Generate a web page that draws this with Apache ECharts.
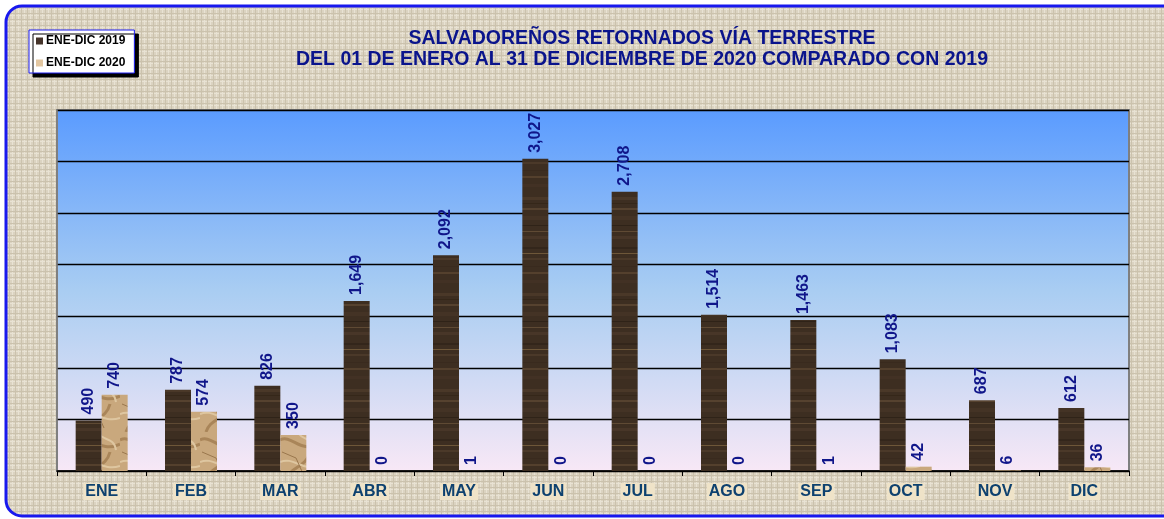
<!DOCTYPE html>
<html>
<head>
<meta charset="utf-8">
<script src="https://cdn.jsdelivr.net/npm/echarts@6/dist/echarts.min.js"></script>
<style>
html,body{margin:0;padding:0;background:#fff;}
#chart{width:1164px;height:519px;}
</style>
</head>
<body>
<div id="chart"></div>
<script>
// datos
const meses = ['ENE','FEB','MAR','ABR','MAY','JUN','JUL','AGO','SEP','OCT','NOV','DIC'];
const retornados2019 = [490,787,826,1649,2092,3027,2708,1514,1463,1083,687,612];
const retornados2020 = [740,574,350,0,1,0,0,0,1,42,6,36];
const nombresSeries = ['ENE-DIC 2019','ENE-DIC 2020'];
const titulo = ['SALVADOREÑOS RETORNADOS VÍA TERRESTRE','DEL 01 DE ENERO AL 31 DE DICIEMBRE DE 2020 COMPARADO CON 2019'];

const fuente = 'Arial, "Liberation Sans", sans-serif';

function lienzo(w, h, dibujar){
  const c = document.createElement('canvas');
  c.width = w; c.height = h;
  dibujar(c.getContext('2d'), w, h);
  return c;
}

/* textura madera (barras 2019) */
const madera = lienzo(4, 96, (ctx, w, h) => {
  ctx.fillStyle = '#3d2e21';
  ctx.fillRect(0, 0, w, h);
  const vetas = [[5,'#4a3828',3],[11,'#352719',1],[16,'#56422f',2],[24,'#443325',4],
                 [33,'#2f2318',1],[39,'#5f4a34',1],[44,'#483628',3],[55,'#33261b',2],[61,'#6e5739',1],
                 [66,'#4b3929',2],[74,'#392a1e',1],[80,'#54402d',2],[88,'#423124',3]];
  vetas.forEach(v => { ctx.fillStyle = v[1]; ctx.fillRect(0, v[0], w, v[2]); });
});

/* textura papel arrugado (barras 2020) */
const papel = lienzo(40, 48, (ctx, w, h) => {
  ctx.fillStyle = '#c9a87d';
  ctx.fillRect(0, 0, w, h);
  ctx.lineWidth = 3;
  ctx.strokeStyle = '#a98559';
  ctx.beginPath(); ctx.moveTo(0, 8); ctx.bezierCurveTo(12, 2, 20, 22, 40, 12); ctx.stroke();
  ctx.beginPath(); ctx.moveTo(6, 48); ctx.bezierCurveTo(10, 34, 26, 36, 30, 20); ctx.stroke();
  ctx.strokeStyle = '#dec6a0';
  ctx.lineWidth = 2;
  ctx.beginPath(); ctx.moveTo(0, 30); ctx.bezierCurveTo(14, 24, 22, 40, 40, 34); ctx.stroke();
  ctx.beginPath(); ctx.moveTo(18, 0); ctx.bezierCurveTo(22, 10, 34, 4, 36, 18); ctx.stroke();
  ctx.strokeStyle = '#9a774d';
  ctx.lineWidth = 1;
  ctx.beginPath(); ctx.moveTo(2, 20); ctx.lineTo(16, 26); ctx.lineTo(24, 44); ctx.stroke();
});

/* textura lino (fondo) */
const lino = lienzo(6, 6, (ctx, w, h) => {
  ctx.fillStyle = '#dbd3c1';
  ctx.fillRect(0, 0, w, h);
  ctx.fillStyle = '#e8e2d3';
  ctx.fillRect(0, 0, 1, h);
  ctx.fillRect(0, 3, w, 1);
  ctx.fillStyle = '#cbc2ad';
  ctx.fillRect(3, 0, 1, h);
  ctx.fillRect(0, 1, w, 1);
});

const etiquetaValor = {
  show: true, position: 'top', rotate: 90, align: 'left', verticalAlign: 'middle', distance: 6,
  fontFamily: fuente, fontWeight: 'bold', fontSize: 16, color: '#10168a',
  formatter: p => p.value.toLocaleString('en-US')
};

const chart = echarts.init(document.getElementById('chart'));

chart.setOption({
  backgroundColor: '#ffffff',
  animation: false,
  graphic: [
    {
      type: 'rect', z: -10, silent: true,
      shape: { x: 6, y: 6, width: 1200, height: 510, r: 16 },
      style: { fill: { image: lino, repeat: 'repeat' }, stroke: '#1818ee', lineWidth: 3 }
    },
    {
      type: 'text', z: 10, silent: true,
      style: { text: titulo[0], x: 642, y: 39, align: 'center', verticalAlign: 'middle',
               font: 'bold 19.5px ' + fuente, fill: '#0a148c' }
    },
    {
      type: 'text', z: 10, silent: true,
      style: { text: titulo[1], x: 642, y: 60, align: 'center', verticalAlign: 'middle',
               font: 'bold 19.5px ' + fuente, fill: '#0a148c' }
    }
  ],
  legend: {
    orient: 'vertical',
    left: 29,
    top: 30,
    padding: [5, 9, 4, 7],
    itemWidth: 7,
    itemHeight: 7,
    itemGap: 10,
    icon: 'rect',
    backgroundColor: '#ffffff',
    borderColor: '#1c1cf0',
    borderWidth: 1,
    shadowColor: '#000000',
    shadowBlur: 0,
    shadowOffsetX: 4,
    shadowOffsetY: 4,
    textStyle: { fontFamily: fuente, fontWeight: 'bold', fontSize: 12, color: '#000', padding: [0, 0, 0, -2] },
    data: [
      { name: nombresSeries[0], itemStyle: { color: '#45342a' } },
      { name: nombresSeries[1], itemStyle: { color: '#e2c6a0' } }
    ]
  },
  grid: {
    left: 57,
    right: 35,
    top: 110,
    bottom: 48,
    show: true,
    borderColor: '#7f7f7f',
    borderWidth: 2,
    backgroundColor: new echarts.graphic.LinearGradient(0, 0, 0, 1, [
      { offset: 0, color: '#5a9bff' },
      { offset: 0.5, color: '#a9cdf2' },
      { offset: 1, color: '#f8e8f6' }
    ])
  },
  xAxis: {
    type: 'category',
    data: meses,
    axisLine: { lineStyle: { color: '#000', width: 1.5 } },
    axisTick: { show: true, length: 5, lineStyle: { color: '#000' } },
    axisLabel: {
      margin: 12,
      fontFamily: fuente,
      fontWeight: 'bold',
      fontSize: 16,
      color: '#0e416f',
      backgroundColor: '#efe3c8',
      padding: [1, 2, 0, 2]
    }
  },
  yAxis: {
    type: 'value',
    min: 0,
    max: 3500,
    interval: 500,
    axisLine: { show: true, lineStyle: { color: '#7f7f7f', width: 1.5 } },
    axisTick: { show: false },
    axisLabel: { show: false },
    splitLine: { lineStyle: { color: '#000', width: 1.3 } }
  },
  series: [
    {
      name: nombresSeries[0],
      type: 'bar',
      data: retornados2019,
      barWidth: 26,
      barGap: '0%',
      itemStyle: { color: { image: madera, repeat: 'repeat' } },
      label: etiquetaValor
    },
    {
      name: nombresSeries[1],
      type: 'bar',
      data: retornados2020,
      barWidth: 26,
      itemStyle: { color: { image: papel, repeat: 'repeat' } },
      label: etiquetaValor
    }
  ]
});
</script>
</body>
</html>
